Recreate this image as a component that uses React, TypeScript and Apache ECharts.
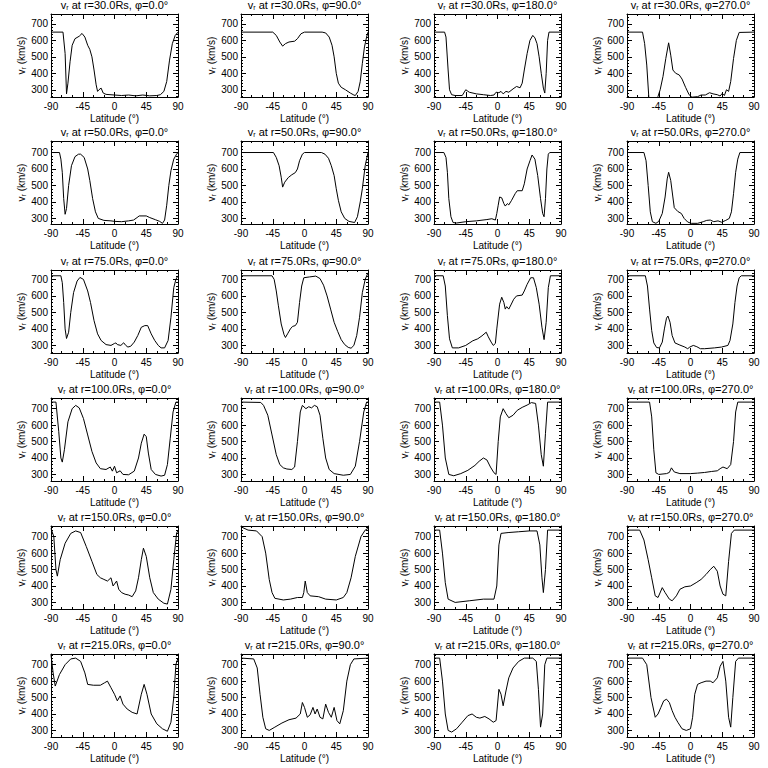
import React, { useEffect, useRef } from "react";
import * as echarts from "echarts";

const radii = ["30.0", "50.0", "75.0", "100.0", "150.0", "215.0"];
const phis = ["0.0", "90.0", "180.0", "270.0"];
const latTicks = [-90, -45, 0, 45, 90];
const vTicks = [300, 400, 500, 600, 700];
const rowYMin = [256, 266, 254, 260, 260, 260];
const rowYMax = [760, 770, 757, 765, 765, 765];

// r = 30 Rs
const p30_0 = [[-90,650],[-73,650],[-70,520],[-68,275],[-66,340],[-63,470],[-60,570],[-56,610],[-50,625],[-46,642],[-42,620],[-38,570],[-35,545],[-32,500],[-29,420],[-26,330],[-24,290],[-22,300],[-19,310],[-16,280],[-12,272],[0,268],[10,265],[20,268],[30,263],[40,268],[50,263],[60,265],[65,270],[70,290],[74,350],[78,480],[82,580],[86,630],[90,650]];
const p30_90 = [[-90,650],[-45,650],[-40,630],[-35,590],[-31,565],[-27,580],[-22,590],[-14,595],[-10,610],[-5,640],[0,650],[25,650],[30,645],[35,620],[39,570],[42,500],[45,400],[48,340],[52,315],[58,300],[65,280],[70,268],[72,265],[76,290],[79,350],[82,460],[85,560],[88,620],[90,650]];
const p30_180 = [[-90,650],[-75,650],[-73,620],[-70,420],[-68,300],[-65,270],[-60,265],[-50,265],[-45,300],[-40,285],[-30,275],[-20,270],[-10,265],[-5,268],[-2,285],[2,282],[5,290],[8,275],[12,290],[16,285],[22,305],[27,320],[32,312],[35,340],[38,420],[42,520],[46,600],[50,630],[53,615],[56,580],[59,500],[62,400],[65,310],[67,280],[69,400],[71,600],[73,650],[90,650]];
const p30_270 = [[-90,650],[-68,650],[-65,580],[-62,450],[-59,250],[-55,230],[-50,230],[-46,260],[-43,300],[-39,380],[-35,490],[-31,585],[-28,510],[-25,420],[-21,400],[-16,390],[-12,365],[-7,315],[-2,270],[2,255],[10,258],[15,268],[21,268],[27,282],[32,275],[38,270],[42,262],[45,278],[48,265],[51,300],[54,290],[57,350],[61,490],[65,600],[69,648],[90,650]];

// r = 50 Rs
const p50_0 = [[-90,700],[-78,700],[-76,660],[-74,580],[-72,420],[-70,325],[-68,360],[-65,500],[-61,620],[-56,675],[-51,690],[-48,690],[-43,670],[-38,600],[-35,530],[-31,420],[-27,340],[-23,300],[-15,288],[-5,285],[0,282],[10,280],[20,285],[27,290],[32,305],[35,315],[45,315],[50,305],[58,292],[64,282],[68,270],[71,290],[74,380],[77,500],[80,590],[84,660],[88,690],[90,700]];
const p50_90 = [[-90,700],[-44,700],[-40,670],[-36,620],[-33,550],[-31,490],[-28,520],[-23,548],[-18,565],[-13,578],[-10,600],[-7,650],[-3,690],[0,700],[24,700],[29,690],[34,665],[38,620],[42,560],[45,480],[48,410],[52,340],[57,300],[63,282],[71,275],[75,310],[79,400],[82,480],[86,620],[90,700]];
const p50_180 = [[-90,700],[-76,700],[-73,670],[-71,580],[-69,420],[-66,310],[-63,275],[-58,272],[-45,280],[-30,285],[-15,293],[-8,298],[-3,290],[-1,330],[1,380],[3,430],[6,425],[9,390],[11,375],[14,390],[16,382],[20,410],[25,450],[28,468],[35,468],[38,510],[42,600],[46,650],[49,685],[53,660],[57,560],[61,420],[64,330],[66,310],[68,420],[70,600],[72,690],[74,700],[90,700]];
const p50_270 = [[-90,700],[-66,700],[-63,650],[-60,500],[-57,340],[-54,280],[-49,270],[-45,282],[-40,330],[-36,430],[-33,540],[-31,580],[-28,530],[-25,430],[-23,365],[-18,342],[-13,330],[-9,300],[-4,278],[1,270],[10,270],[18,280],[23,288],[28,290],[33,280],[39,285],[44,277],[50,288],[55,300],[58,340],[61,450],[64,580],[67,660],[70,700],[90,700]];

// r = 75 Rs
const p75_0 = [[-90,722],[-76,722],[-74,680],[-72,560],[-70,400],[-68,342],[-65,380],[-62,500],[-58,620],[-53,690],[-49,712],[-44,700],[-38,630],[-34,560],[-29,450],[-24,370],[-19,330],[-12,305],[-5,300],[0,312],[2,315],[4,305],[9,300],[13,316],[16,300],[19,290],[23,295],[28,320],[33,360],[38,410],[43,420],[47,420],[52,370],[57,330],[62,300],[66,285],[71,285],[76,330],[80,470],[84,650],[87,700],[90,722]];
const p75_90 = [[-90,722],[-46,722],[-43,700],[-40,630],[-37,540],[-33,430],[-29,365],[-27,348],[-24,370],[-20,400],[-17,415],[-13,420],[-10,440],[-7,560],[-4,660],[-1,710],[7,715],[16,720],[22,705],[27,665],[32,600],[37,520],[42,440],[47,385],[52,335],[57,305],[62,288],[66,283],[70,300],[74,360],[78,470],[82,620],[86,700],[90,740]];
const p75_180 = [[-90,722],[-77,722],[-74,660],[-71,480],[-68,340],[-64,285],[-55,285],[-45,300],[-35,328],[-28,340],[-22,358],[-16,380],[-13,352],[-9,320],[-6,300],[-3,312],[-1,400],[3,550],[6,592],[9,560],[11,520],[13,535],[16,520],[19,545],[23,580],[27,600],[35,605],[38,630],[42,670],[47,710],[51,710],[55,650],[59,550],[63,410],[66,335],[69,440],[72,650],[75,722],[90,722]];
const p75_270 = [[-90,722],[-64,722],[-61,660],[-58,520],[-55,390],[-52,315],[-48,287],[-44,285],[-40,320],[-37,400],[-34,465],[-32,478],[-29,440],[-26,360],[-22,315],[-15,302],[-8,290],[-4,280],[-1,290],[4,300],[9,292],[14,280],[20,280],[34,285],[44,290],[53,300],[56,330],[60,430],[63,560],[66,660],[69,710],[72,722],[90,722]];

// r = 100 Rs
const p100_0 = [[-90,740],[-83,740],[-79,560],[-76,400],[-74,375],[-71,450],[-66,620],[-60,700],[-55,720],[-50,705],[-44,640],[-38,540],[-32,440],[-26,370],[-20,335],[-12,330],[-6,345],[-3,320],[0,350],[3,310],[8,322],[12,300],[20,298],[28,320],[34,400],[38,490],[42,545],[45,530],[48,430],[52,330],[58,300],[66,290],[71,295],[75,360],[79,520],[83,680],[87,740],[90,740]];
const p100_90 = [[-90,740],[-62,738],[-58,720],[-52,660],[-46,540],[-40,420],[-35,360],[-30,340],[-25,333],[-18,330],[-14,345],[-10,500],[-6,680],[-3,720],[2,700],[6,712],[10,705],[14,720],[18,712],[22,660],[26,520],[30,400],[35,330],[42,305],[55,295],[65,300],[72,350],[78,500],[84,680],[88,740],[90,740]];
const p100_180 = [[-90,740],[-82,740],[-78,600],[-74,400],[-69,300],[-62,292],[-52,305],[-42,325],[-32,355],[-26,380],[-20,400],[-15,388],[-10,345],[-5,310],[-2,300],[1,500],[4,650],[8,700],[12,670],[16,645],[22,660],[28,690],[35,708],[42,722],[48,737],[54,732],[58,600],[62,420],[65,350],[68,550],[71,740],[90,740]];
const p100_270 = [[-90,740],[-58,740],[-55,650],[-52,450],[-49,310],[-45,300],[-34,305],[-30,312],[-27,340],[-23,315],[-15,305],[0,305],[10,308],[20,312],[30,318],[38,322],[42,335],[46,345],[52,335],[57,360],[61,500],[64,680],[67,740],[90,740]];

// r = 150 Rs
const p150_0 = [[-90,750],[-86,700],[-83,500],[-81,460],[-77,560],[-70,660],[-62,720],[-55,735],[-48,725],[-40,640],[-32,550],[-25,470],[-20,450],[-15,440],[-10,430],[-5,450],[-2,400],[3,430],[6,380],[10,360],[15,350],[20,345],[25,335],[30,370],[34,450],[38,560],[41,630],[45,580],[50,450],[55,360],[62,320],[70,295],[75,290],[80,380],[84,560],[88,720],[90,740]];
const p150_90 = [[-90,760],[-80,740],[-68,735],[-60,700],[-55,600],[-50,440],[-46,360],[-42,325],[-30,315],[-20,320],[-10,330],[-3,330],[-1,360],[1,430],[4,360],[8,340],[20,335],[30,320],[45,315],[55,330],[60,360],[66,450],[72,580],[80,700],[86,740],[90,750]];
const p150_180 = [[-90,740],[-82,740],[-78,600],[-74,420],[-70,320],[-60,300],[-40,310],[-20,320],[-5,320],[-1,400],[2,650],[5,720],[15,725],[30,730],[45,735],[56,735],[60,650],[63,450],[65,360],[68,500],[71,740],[90,740]];
const p150_270 = [[-90,740],[-72,740],[-66,680],[-60,560],[-55,450],[-50,340],[-46,330],[-40,390],[-36,360],[-30,320],[-26,310],[-20,340],[-15,380],[-8,395],[0,400],[8,420],[15,440],[22,470],[28,500],[33,520],[38,490],[42,400],[46,350],[50,340],[54,550],[58,720],[62,740],[90,740]];

// r = 215 Rs
const p215_0 = [[-90,760],[-87,650],[-84,570],[-78,640],[-70,700],[-62,735],[-55,740],[-48,720],[-42,650],[-38,580],[-30,575],[-20,575],[-14,590],[-10,600],[-5,560],[0,520],[4,480],[8,510],[12,460],[18,430],[25,410],[32,400],[38,520],[42,580],[46,520],[52,400],[60,340],[68,310],[75,295],[80,350],[84,500],[87,700],[90,740]];
const p215_90 = [[-90,740],[-72,735],[-67,680],[-63,520],[-59,380],[-55,310],[-50,300],[-42,320],[-32,345],[-22,365],[-12,375],[-6,400],[-3,470],[0,440],[4,380],[8,395],[12,440],[15,400],[18,430],[22,380],[26,370],[30,460],[34,410],[38,380],[42,440],[46,360],[50,340],[55,420],[60,600],[65,700],[70,735],[90,740]];
const p215_180 = [[-90,740],[-82,740],[-78,600],[-74,400],[-70,300],[-65,290],[-58,310],[-50,350],[-42,390],[-36,400],[-30,380],[-25,375],[-18,385],[-12,370],[-6,350],[-2,360],[2,550],[5,520],[8,450],[12,540],[16,620],[22,680],[30,720],[38,740],[50,740],[55,720],[58,550],[61,320],[64,400],[67,700],[70,740],[90,740]];
const p215_270 = [[-90,740],[-68,740],[-62,700],[-56,500],[-50,380],[-46,400],[-42,440],[-38,480],[-34,490],[-30,470],[-26,420],[-22,380],[-18,350],[-12,310],[-6,300],[0,310],[3,380],[6,520],[10,580],[15,590],[22,600],[28,600],[32,590],[38,620],[42,690],[46,720],[50,600],[54,380],[57,320],[60,500],[64,720],[68,740],[90,740]];

const panels = [
  [p30_0, p30_90, p30_180, p30_270],
  [p50_0, p50_90, p50_180, p50_270],
  [p75_0, p75_90, p75_180, p75_270],
  [p100_0, p100_90, p100_180, p100_270],
  [p150_0, p150_90, p150_180, p150_270],
  [p215_0, p215_90, p215_180, p215_270],
];

const COL_LEFT = [51, 241, 434, 627];
const ROW_TOP = [14, 141, 270, 398, 526, 654];
const W = 127;
const H = 83;
const FONT = "Liberation Sans";
const INK = "#000";

function minorValues(min: number, max: number, step: number) {
  const out: number[] = [];
  for (let v = Math.ceil(min / step) * step; v <= max; v += step) out.push(v);
  return out;
}

function buildOption() {
  const grid: any[] = [];
  const xAxis: any[] = [];
  const yAxis: any[] = [];
  const series: any[] = [];
  const graphic: any[] = [];
  const rich = {
    a: { fontFamily: FONT, fontSize: 10, color: INK, lineHeight: 12 },
    s: { fontFamily: FONT, fontSize: 7, color: INK, lineHeight: 12, verticalAlign: "bottom" },
  };
  radii.forEach((r, ri) => {
    phis.forEach((p, ci) => {
      const idx = ri * 4 + ci;
      const left = COL_LEFT[ci];
      const top = ROW_TOP[ri];
      const ymin = rowYMin[ri];
      const ymax = rowYMax[ri];
      grid.push({ left, top, width: W, height: H });
      const lineStyle = { color: INK, width: 1 };
      const xCommon = {
        gridIndex: idx,
        type: "value",
        min: -90,
        max: 90,
        interval: 45,
        splitLine: { show: false },
        axisLine: { show: true, onZero: false, lineStyle },
        axisTick: { show: true, inside: true, length: 5, lineStyle },
        minorTick: { show: true, splitNumber: 3, length: 2, lineStyle },
      };
      xAxis.push({
        ...xCommon,
        position: "bottom",
        axisLabel: { show: true, customValues: latTicks, fontFamily: FONT, fontSize: 10, color: INK, margin: 4 },
        name: "Latitude (°)",
        nameLocation: "middle",
        nameGap: 16,
        nameTextStyle: { fontFamily: FONT, fontSize: 10, color: INK },
      });
      xAxis.push({ ...xCommon, position: "top", axisLabel: { show: false } });
      const yCommon = {
        gridIndex: idx,
        type: "value",
        min: ymin,
        max: ymax,
        splitLine: { show: false },
      };
      const minors = minorValues(ymin, ymax, 20);
      yAxis.push({
        ...yCommon,
        position: "left",
        axisLine: { show: true, onZero: false, lineStyle },
        axisTick: { show: true, inside: true, length: 5, customValues: vTicks, lineStyle },
        axisLabel: { show: true, customValues: vTicks, fontFamily: FONT, fontSize: 10, color: INK, margin: 3 },
        name: "{a|v}{s|r}{a| (km/s)}",
        nameLocation: "middle",
        nameGap: 22,
        nameTextStyle: { rich },
      });
      yAxis.push({
        ...yCommon,
        position: "right",
        axisLine: { show: true, onZero: false, lineStyle },
        axisTick: { show: true, inside: true, length: 5, customValues: vTicks, lineStyle },
        axisLabel: { show: false },
      });
      yAxis.push({
        ...yCommon,
        position: "left",
        axisLine: { show: false, onZero: false },
        axisTick: { show: true, inside: true, length: 2, customValues: minors, lineStyle },
        axisLabel: { show: false },
      });
      yAxis.push({
        ...yCommon,
        position: "right",
        axisLine: { show: false, onZero: false },
        axisTick: { show: true, inside: true, length: 2, customValues: minors, lineStyle },
        axisLabel: { show: false },
      });
      series.push({
        type: "line",
        xAxisIndex: idx * 2,
        yAxisIndex: idx * 4,
        data: panels[ri][ci],
        showSymbol: false,
        symbol: "none",
        clip: true,
        lineStyle: { color: INK, width: 1 },
        silent: true,
      });
      graphic.push({
        type: "text",
        x: left + W / 2,
        y: top - 3,
        style: {
          text: `{a|v}{s|r}{a| at r=${r}Rs, φ=${p}°}`,
          rich: {
            a: { fontFamily: FONT, fontSize: 11, fill: INK, lineHeight: 13 },
            s: { fontFamily: FONT, fontSize: 7, fill: INK, lineHeight: 13, verticalAlign: "bottom" },
          },
          align: "center",
          verticalAlign: "bottom",
        },
      });
    });
  });
  return {
    animation: false,
    backgroundColor: "#fff",
    grid,
    xAxis,
    yAxis,
    series,
    graphic,
  };
}

export default function App() {
  const ref = useRef<HTMLDivElement>(null);
  useEffect(() => {
    if (!ref.current) return;
    const chart = echarts.init(ref.current, null, { renderer: "svg" });
    chart.setOption(buildOption() as any);
    return () => chart.dispose();
  }, []);
  return (
    <div
      ref={ref}
      style={{ position: "absolute", left: 0, top: 0, width: 768, height: 768, background: "#fff" }}
    />
  );
}
